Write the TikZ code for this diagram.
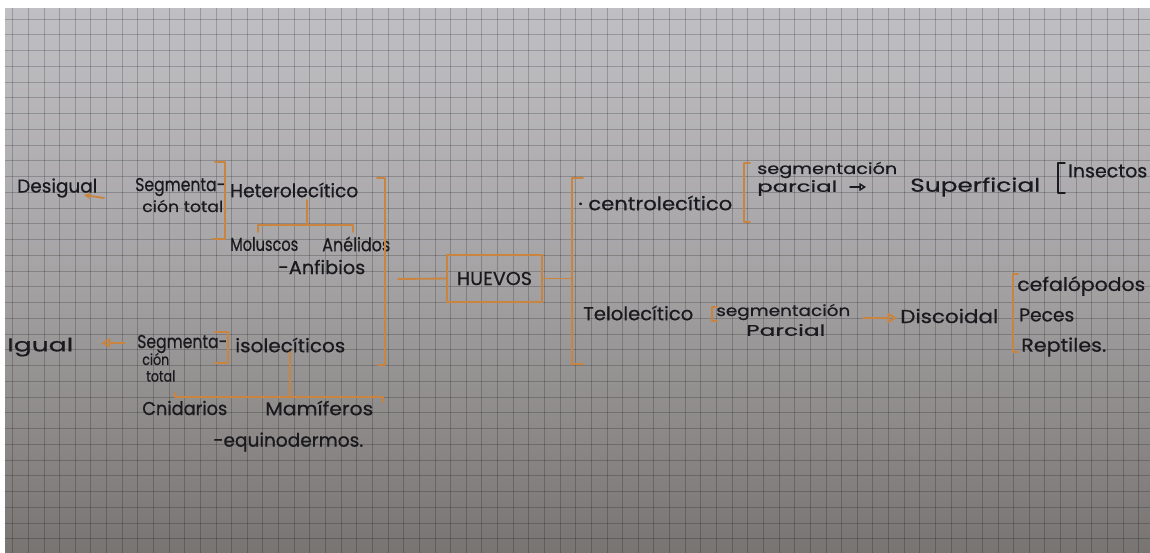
\documentclass[tikz,border=0pt]{standalone}
\usepackage{fontspec}
\setmainfont{Poppins}[FakeBold=0.6]
\usetikzlibrary{arrows.meta}
\definecolor{orng}{HTML}{C98540}
\definecolor{ink}{HTML}{1A1A1E}
\definecolor{paperT}{HTML}{C0BFC3}
\definecolor{paperM}{HTML}{A4A2A3}
\definecolor{paperB}{HTML}{787472}
\newcommand\fw[2]{\resizebox{\dimexpr #1pt*3/4\relax}{\height}{#2}}
\begin{document}
\begin{tikzpicture}[x=0.75pt,y=-0.75pt,
  txt/.style={font=\fontsize{14}{15}\selectfont, text=ink, inner sep=0pt, anchor=west},
  txs/.style={txt, font=\fontsize{11.5}{12}\selectfont},
  obr/.style={draw=orng, line width=1.4pt, line cap=round, line join=round},
  kbr/.style={draw=ink, line width=1.1pt, line cap=round, line join=round},
  gridl/.style={draw=black, opacity=0.2, line width=0.7pt}]
\useasboundingbox (0,0) rectangle (1150,553);
\fill[white] (0,0) rectangle (1150,553);
\shade[top color=paperT, bottom color=paperB, middle color=paperM] (5,8) rectangle (1150,553);
\begin{scope}
\clip (5,8) rectangle (1150,553);
\foreach \i in {0,...,73} \draw[gridl] ({12.7+15.64*\i},8) -- ({12.7+15.64*\i},553);
\foreach \j in {0,...,34} \draw[gridl] (5,{19+15.75*\j}) -- (1150,{19+15.75*\j});
\end{scope}

% left upper
\node[txt] (desig) at (17,188) {\fw{80}{Desigual}};
\node[txt] (segA1) at (135,187) {\fw{90}{Segmenta-}};
\node[txs] (segA2) at (142,206) {\fw{81}{ción total}};
\node[txt] (hetero) at (230,190) {\fw{128}{Heterolecítico}};
\node[txt] (molus) at (230,244) {\fw{68}{Moluscos}};
\node[txt] (aneli) at (322,244) {\fw{68}{Anélidos}};
\node[txt] (anfib) at (278,267) {\fw{87}{-Anfibios}};
% left lower
\node[txt] (igual) at (7,347) {\fw{66}{Igual}};
\node[txt] (segB1) at (137,344) {\fw{90}{Segmenta-}};
\node[txs] (segB2) at (142,359) {\fw{27}{ción}};
\node[txs] (segB3) at (146,376) {\fw{29}{total}};
\node[txt] (isole) at (235,345) {\fw{110}{isolecíticos}};
\node[txt] (cnid) at (142,408) {\fw{85}{Cnidarios}};
\node[txt] (mamif) at (265,408) {\fw{108}{Mamíferos}};
\node[txt] (equin) at (213,442) {\fw{150}{-equinodermos.}};
% centre
\node[draw=orng, line width=1.4pt, minimum width=71.25pt, minimum height=35.25pt, inner sep=0pt,
  font=\fontsize{14}{15}\selectfont, text=ink] (huevos) at (494.5,278.5) {\fw{75}{HUEVOS}};
% right upper
\node[txt] (centro) at (578,203) {\fw{154}{· centrolecítico}};
\node[txs] (segC1) at (757,170) {\fw{140}{segmentación}};
\node[txs] (segC2) at (757,188) {\fw{80}{parcial}};
\node[txt] (superf) at (910,187) {\fw{130}{Superficial}};
\node[txt] (insect) at (1068,171) {\fw{79}{Insectos}};
% right lower
\node[txt] (telo) at (583,313) {\fw{110}{Telolecítico}};
\node[txs] (segD1) at (716,312) {\fw{134}{segmentación}};
\node[txs] (segD2) at (746,330) {\fw{79}{Parcial}};
\node[txt] (disco) at (900,316) {\fw{98}{Discoidal}};
\node[txt] (cefal) at (1017,286) {\fw{128}{cefalópodos}};
\node[txt] (peces) at (1019,315) {\fw{55}{Peces}};
\node[txt] (rept) at (1021,347) {\fw{85}{Reptiles.}};

% brackets and trees
\draw[obr] (215,162) -- (225,162) -- (225,239) -- (213,239);
\coordinate (t1a) at (307,200);
\coordinate (t1b) at (307,225);
\draw[obr] (t1a) -- (t1b);
\draw[obr] (258,232) -- (258,225) -- (353,225) -- (353,232);
\draw[obr] (377,178) -- (385,178) -- (385,365) -- (378,365);
\coordinate (hl) at (398,279);
\draw[obr] (hl) -- (huevos.west);
\draw[obr] (215,332) -- (228,332) -- (228,363) -- (215,363);
\coordinate (t2a) at (290,352);
\coordinate (t2b) at (290,397);
\draw[obr] (t2a) -- (t2b);
\draw[obr] (175,393) -- (175,397) -- (383,397) -- (383,402);
\coordinate (hr) at (572,278.5);
\draw[obr] (huevos.east) -- (hr);
\draw[obr] (583,178) -- (572,178) -- (572,364) -- (583,364);
\draw[obr] (750,163) -- (744,163) -- (744,222) -- (750,222);
\draw[kbr] (1065,163) -- (1058,163) -- (1058,193) -- (1065,193);
\draw[obr] (717,307) -- (712,307) -- (712,321) -- (717,321);
\draw[obr] (1018,274) -- (1013,274) -- (1013,352) -- (1018,352);

% arrows
\coordinate (a1s) at (104,198);
\coordinate (a1e) at (84,195);
\draw[obr, -{Stealth[length=5pt,width=5pt]}] (a1s) -- (a1e);
\coordinate (a2s) at (125,343);
\coordinate (a2e) at (101,343);
\draw[obr, -{Triangle[open,length=7pt,width=7pt]}] (a2s) -- (a2e);
\coordinate (a3s) at (850,187);
\coordinate (a3e) at (866,187);
\draw[kbr, -{Triangle[open,length=5pt,width=6pt]}] (a3s) -- (a3e);
\coordinate (a4s) at (863,318);
\coordinate (a4e) at (897,318);
\draw[obr, -{Triangle[open,length=7pt,width=8pt]}] (a4s) -- (a4e);
\end{tikzpicture}
\end{document}
